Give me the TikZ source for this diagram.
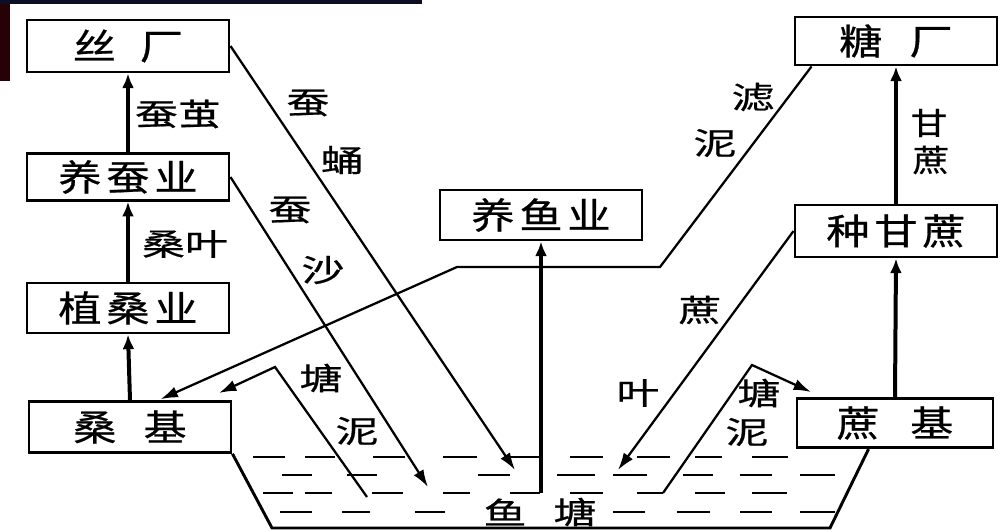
\documentclass[tikz,border=0pt]{standalone}
\usepackage{fontspec}
\usepackage{graphicx}
\newfontfamily\cjk[FakeBold=0.6]{Noto Sans CJK SC}
\usetikzlibrary{arrows.meta,calc}
\newcommand{\bx}[1]{\scalebox{1.2}[1]{#1}}
\newcommand{\lb}[1]{\scalebox{1.4}[1]{#1}}
\definecolor{bannerA}{RGB}{12,14,34}
\definecolor{bannerB}{RGB}{38,2,6}
\begin{document}
\begin{tikzpicture}[x=0.75pt,y=-0.75pt,
  box/.style={draw,line width=2.2pt,inner sep=0pt,minimum width=151.5pt,minimum height=37pt,font=\cjk\fontsize{27}{27}\selectfont},
  lab/.style={inner sep=0pt,font=\cjk\fontsize{23}{23}\selectfont},
  conn/.style={line width=1.7pt,-{Latex[length=13pt,width=8.5pt]}},
  upar/.style={line width=3pt,-{Latex[length=11pt,width=9pt]}},
  water/.style={line width=2.2pt}]
\useasboundingbox (0,0) rectangle (1007,532);
\fill[white] (0,0) rectangle (1007,532);
% banner
\fill[bannerA] (0,0) rectangle (422,4);
\fill[bannerB] (0,4) rectangle (10,81);

% boxes
\node[box,minimum height=39pt] (silk) at (128,46) {\bx{丝\hspace{15pt}厂}};
\node[box,minimum height=35pt] (yc) at (128,177) {\bx{养\hspace{3pt}蚕\hspace{3pt}业}};
\node[box,minimum height=37.5pt] (zs) at (128,308) {\bx{植\hspace{3pt}桑\hspace{3pt}业}};
\node[box,minimum height=38pt] (sj) at (130,427) {\bx{桑\hspace{17pt}基}};
\node[box,minimum height=37.5pt] (yy) at (541,215) {\bx{养\hspace{3pt}鱼\hspace{3pt}业}};
\node[box,minimum height=36pt] (tc) at (896,41) {\bx{糖\hspace{17pt}厂}};
\node[box,minimum height=39pt] (zgz) at (896,231) {\bx{种\hspace{3pt}甘\hspace{3pt}蔗}};
\node[box,minimum height=37pt,minimum width=147pt] (zj) at (895,423) {\bx{蔗\hspace{19pt}基}};

% pond outline
\coordinate (pbl) at (272,528);
\coordinate (pbr) at (830,528);
\draw[line width=2.2pt] (sj.south east) -- (pbl) -- (pbr) -- ($(zj.south west)+(73,0)$);

% water dashes
\foreach \a/\b in {253/285,305/335,373/405,443/477,510/540,570/603,637/670,695/722,752/788}
  \draw[water] (\a,457) -- (\b,457);
\foreach \a/\b in {282/312,347/377,478/510,557/595,613/647,683/713,740/772,800/835}
  \draw[water] (\a,475) -- (\b,475);
\foreach \a/\b in {263/293,305/332,372/403,443/470,510/540,570/603,637/663,695/725,752/787}
  \draw[water] (\a,493) -- (\b,493);
\foreach \a/\b in {280/312,342/370,415/445,613/645,677/710,740/772,800/835}
  \draw[water] (\a,512) -- (\b,512);

% vertical arrows
\draw[upar] (sj.north) -- (zs.south);
\draw[upar] (zs.north) -- (yc.south);
\draw[upar] (yc.north) -- (silk.south);
\draw[upar] (zj.north) -- (zgz.south);
\draw[upar] (zgz.north) -- (tc.south);
\coordinate (fishsrc) at (541,493);
\draw[upar] (fishsrc) -- (yy.south);

% diagonal connectors
\coordinate (t1) at (515,470);
\draw[conn] (silk.east) -- (t1);
\coordinate (t2) at (428,487);
\draw[conn] (yc.east) -- (t2);
\coordinate (lk1) at (660,267);
\coordinate (lk2) at (457,267);
\draw[conn] ($(tc.south west)+(18,0)$) -- (lk1) -- (lk2) -- ($(sj.north west)+(133,-1)$);
\coordinate (m1) at (367,497);
\coordinate (m2) at (275,367);
\coordinate (m3) at (219,393);
\draw[conn] (m1) -- (m2) -- (m3);
\coordinate (t4) at (618,470);
\draw[conn] (zgz.west) -- (t4);
\coordinate (r1) at (663,493);
\coordinate (r2) at (752,365);
\coordinate (r3) at (811,392);
\draw[conn] (r1) -- (r2) -- (r3);

% labels
\node[lab] (lcj) at (178,114) {\lb{蚕茧}};
\node[lab] (lsy) at (185,244) {\lb{桑叶}};
\node[lab] (lc1) at (308,103) {\lb{蚕}};
\node[lab] (ly1) at (342,160) {\lb{蛹}};
\node[lab] (lc2) at (290,210) {\lb{蚕}};
\node[lab] (ls2) at (323,270) {\lb{沙}};
\node[lab] (lt1) at (321,378) {\lb{塘}};
\node[lab] (ln1) at (357,431) {\lb{泥}};
\node[lab] (llv) at (753,97) {\lb{滤}};
\node[lab] (ln2) at (715,143) {\lb{泥}};
\node[lab] (lg) at (929,123) {\scalebox{1.2}[1]{甘}};
\node[lab] (lz) at (931,160) {\scalebox{1.2}[1]{蔗}};
\node[lab] (lz2) at (700,310) {\lb{蔗}};
\node[lab] (ly2) at (638,393) {\lb{叶}};
\node[lab] (lt2) at (759,393) {\lb{塘}};
\node[lab] (ln3) at (747,432) {\lb{泥}};
\node[lab] (lyu) at (505,512) {\lb{鱼}};
\node[lab] (lt3) at (575,512) {\lb{塘}};
\end{tikzpicture}
\end{document}
